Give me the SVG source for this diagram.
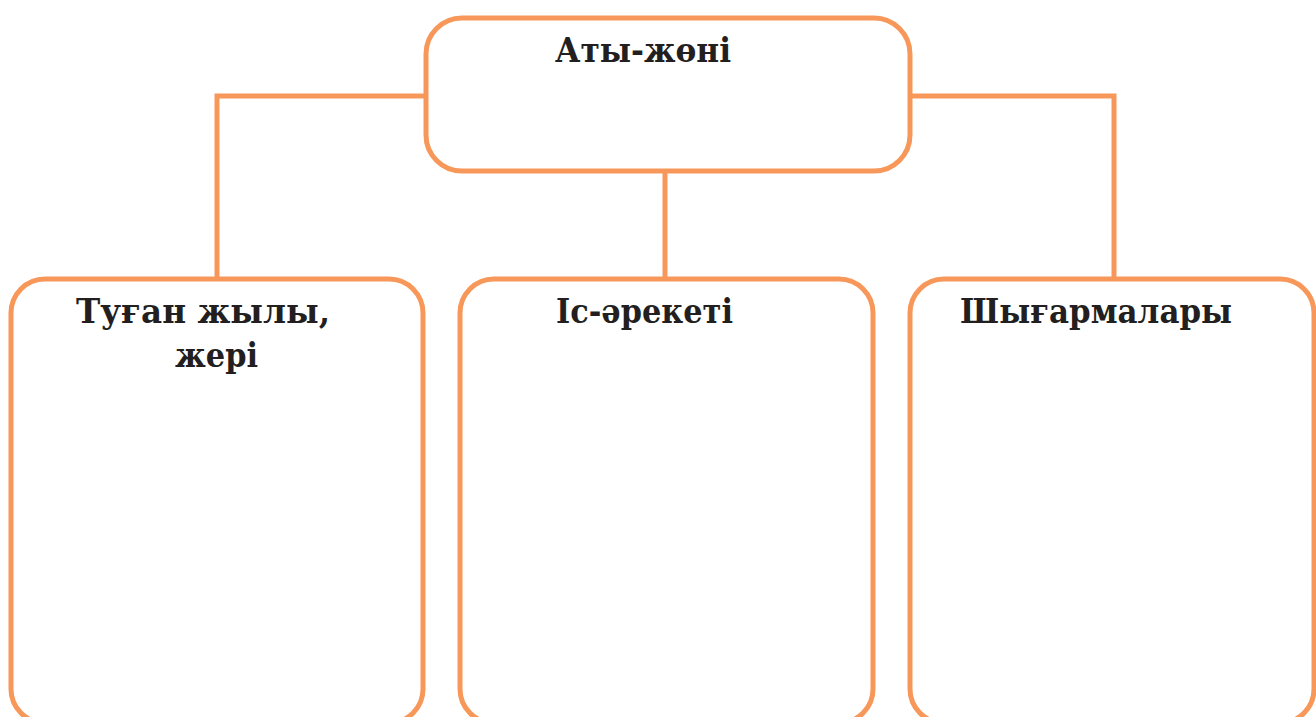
<svg xmlns="http://www.w3.org/2000/svg" width="1316" height="717" viewBox="0 0 1316 717">
<style>
.box{fill:#ffffff;stroke:#F7985A;stroke-width:5}
.conn{fill:none;stroke:#F7985A;stroke-width:5}
.t{font-family:"DejaVu Serif","Liberation Serif",serif;font-weight:bold;font-size:33px;fill:#231F20}
</style>
<rect width="1316" height="717" fill="#ffffff"/>
<g id="connectors">
<path class="conn" d="M217 279 V96 H426"/>
<path class="conn" d="M910 96 H1114 V279"/>
<path class="conn" d="M665 171 V279"/>
</g>
<g id="node-top">
<rect class="box" x="426" y="18" width="484" height="153" rx="36"/>
<text class="t" x="555" y="62" textLength="176" lengthAdjust="spacingAndGlyphs">Аты-жөні</text>
</g>
<g id="node-left">
<rect class="box" x="11" y="279" width="412" height="444" rx="34"/>
<text class="t" x="76" y="323" textLength="254" lengthAdjust="spacingAndGlyphs">Туған жылы,</text>
<text class="t" x="175" y="367" textLength="83" lengthAdjust="spacingAndGlyphs">жері</text>
</g>
<g id="node-middle">
<rect class="box" x="460" y="279" width="413" height="444" rx="34"/>
<text class="t" x="556" y="323" textLength="177" lengthAdjust="spacingAndGlyphs">Іс-әрекеті</text>
</g>
<g id="node-right">
<rect class="box" x="910" y="279" width="404" height="444" rx="34"/>
<text class="t" x="960" y="323" textLength="272" lengthAdjust="spacingAndGlyphs">Шығармалары</text>
</g>
</svg>
